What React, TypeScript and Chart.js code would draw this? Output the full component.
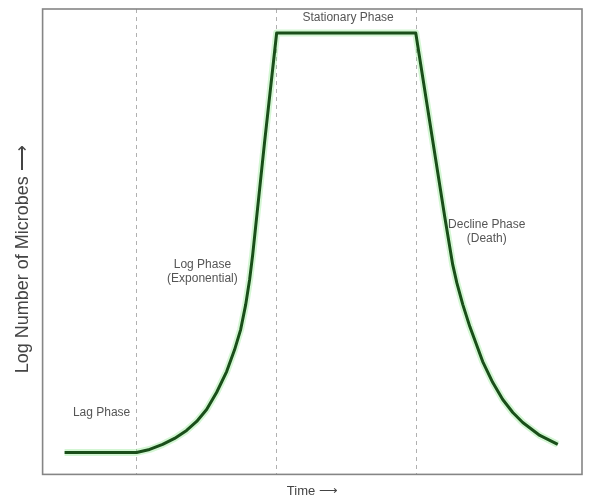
import React, { useEffect, useRef } from "react";
import { Chart, registerables } from "chart.js";

Chart.register(...registerables);

// Growth curve samples (time in arbitrary units, log count in arbitrary units)
const timeValues = [
  4.86, 10.0, 10.93, 11.86, 12.71, 13.57, 14.29, 15.0, 15.71, 16.43, 17.0, 17.43, 17.79, 18.07, 18.29, 19.14, 20.0,
  29.93, 32.0, 32.57, 32.86, 33.29, 33.79, 34.29, 34.71, 35.43, 36.14, 36.86, 37.57, 38.79, 40.07,
];
const logCounts = [
  4.72, 4.72, 5.36, 6.44, 7.73, 9.44, 11.37, 13.95, 17.6, 22.1, 26.82, 31.12, 36.48, 41.85, 47.21, 71.46, 94.85,
  94.85, 55.36, 45.06, 41.2, 36.48, 31.76, 27.68, 24.25, 19.74, 16.09, 13.3, 11.16, 8.37, 6.44,
];

// Phase boundaries (dashed verticals)
const phaseBoundaries = [10, 20, 30];

// Phase annotations
const phaseLabelLines = [["Lag Phase"], ["Log Phase", "(Exponential)"], ["Stationary Phase"], ["Decline Phase", "(Death)"]];
const phaseLabelX = [7.5, 14.7, 25.1, 35.0];
const phaseLabelY = [13.3, 45.1, 98.1, 53.6];

const xTitle = "Time \u27F6";
const yTitle = "Log Number of Microbes \u27F6\u00A0\u00A0\u00A0\u00A0\u00A0\u00A0\u00A0";

const FONT = "'Liberation Sans', Arial, sans-serif";

export default function App() {
  const canvasRef = useRef<HTMLCanvasElement | null>(null);

  useEffect(() => {
    const canvas = canvasRef.current;
    if (!canvas) return;
    const points = timeValues.map((t, i) => ({ x: t, y: logCounts[i] }));

    const framePlugin = {
      id: "frame",
      afterDraw(chart: any) {
        const { ctx, chartArea, scales } = chart;
        ctx.save();
        ctx.strokeStyle = "#858585";
        ctx.lineWidth = 1.6;
        ctx.strokeRect(chartArea.left, chartArea.top, chartArea.right - chartArea.left, chartArea.bottom - chartArea.top);
        ctx.fillStyle = "#555555";
        ctx.font = `12px ${FONT}`;
        ctx.textAlign = "center";
        ctx.textBaseline = "middle";
        phaseLabelLines.forEach((lines, i) => {
          const px = scales.x.getPixelForValue(phaseLabelX[i]);
          const py = scales.y.getPixelForValue(phaseLabelY[i]);
          lines.forEach((line, j) => {
            ctx.fillText(line, px, py + j * 14);
          });
        });
        ctx.restore();
      },
    };

    const chart = new Chart(canvas, {
      type: "scatter",
      data: {
        datasets: [
          {
            data: points,
            showLine: true,
            borderColor: "#1a4f1a",
            borderWidth: 3,
            borderJoinStyle: "round",
            pointRadius: 0,
            tension: 0,
            order: 1,
          },
          {
            data: points,
            showLine: true,
            borderColor: "rgba(130,230,130,0.35)",
            borderWidth: 7,
            borderJoinStyle: "round",
            pointRadius: 0,
            tension: 0,
            order: 2,
          },
        ],
      },
      options: {
        animation: false,
        responsive: true,
        maintainAspectRatio: false,
        layout: { padding: { left: 12, top: 9, right: 7, bottom: 0 } },
        plugins: { legend: { display: false }, tooltip: { enabled: false } },
        scales: {
          x: {
            type: "linear",
            min: 3.29,
            max: 41.8,
            afterBuildTicks: (axis: any) => {
              axis.ticks = phaseBoundaries.map((v) => ({ value: v }));
            },
            ticks: { display: false },
            grid: {
              display: true,
              drawTicks: false,
              color: "#b0b0b0",
              lineWidth: 1,
            },
            border: { display: false, dash: [4, 4] },
            title: {
              display: true,
              text: xTitle,
              color: "#444444",
              font: { family: FONT, size: 13, lineHeight: 1.2 },
              padding: { top: 9, bottom: 0 },
            },
          },
          y: {
            type: "linear",
            min: 0,
            max: 100,
            ticks: { display: false },
            grid: { display: false, drawTicks: false },
            border: { display: false },
            title: {
              display: true,
              text: yTitle,
              color: "#444444",
              font: { family: FONT, size: 18, lineHeight: 1.2 },
              padding: { top: 0, bottom: 9 },
            },
          },
        },
      },
      plugins: [framePlugin],
    } as any);

    return () => chart.destroy();
  }, []);

  return (
    <div style={{ position: "fixed", left: 0, top: 0, width: 589, height: 499, background: "#ffffff" }}>
      <canvas ref={canvasRef} />
    </div>
  );
}
